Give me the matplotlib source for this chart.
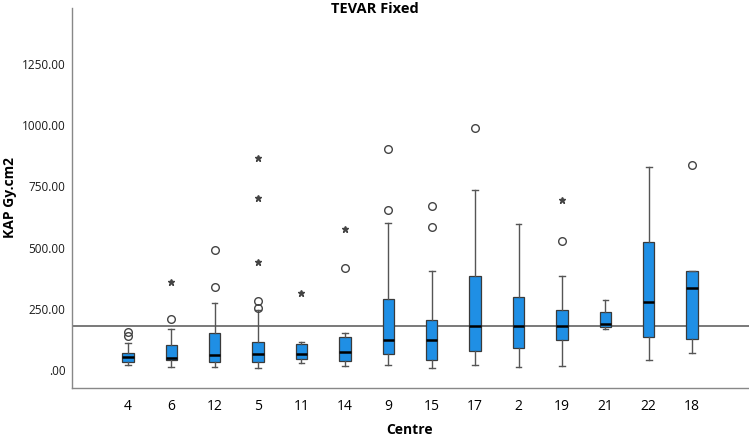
import matplotlib
matplotlib.use("Agg")
import matplotlib.pyplot as plt

plt.rcParams['font.family'] = ['Open Sans', 'DejaVu Sans']

centres = ["4", "6", "12", "5", "11", "14", "9", "15", "17", "2", "19", "21", "22", "18"]
q1 =      [32, 38, 31, 31, 42, 34, 64, 39, 76, 88, 120, 174, 132, 124]
median =  [50, 48, 59, 65, 63, 73, 120, 122, 178, 180, 177, 185, 279, 334]
q3 =      [70, 100, 151, 115, 105, 135, 289, 203, 382, 297, 243, 234, 524, 404]
whis_lo = [17, 9, 12, 6, 27, 16, 20, 8, 18, 9, 13, 165, 38, 70]
whis_hi = [110, 165, 271, 244, 113, 151, 600, 404, 736, 595, 382, 285, 829, 404]
outliers = [[137, 154], [206], [337, 488], [253, 283], [], [416], [654, 903],
            [583, 669], [988], [], [527], [], [], [838]]
extremes = [[], [360], [], [439, 702, 865], [315], [577], [], [], [], [], [694], [], [], []]
reference_value = 178
yticks = [0, 250, 500, 750, 1000, 1250]
ytick_labels = [".00", "250.00", "500.00", "750.00", "1000.00", "1250.00"]

fig = plt.figure(figsize=(7.49, 4.37), dpi=100)
ax = fig.add_axes([72.3 / 749, 1 - 387.7 / 437, 1 - 72.3 / 749, (387.7 - 8) / 437])

stats = []
for i, c in enumerate(centres):
    stats.append(dict(label=c, q1=q1[i], med=median[i], q3=q3[i],
                      whislo=whis_lo[i], whishi=whis_hi[i], fliers=[]))

positions = list(range(len(centres)))
ax.axhline(reference_value, color="#6e6e6e", lw=1.3, zorder=1)
ax.bxp(stats, positions=positions, widths=0.26, patch_artist=True,
       showfliers=False, capwidths=0.13,
       boxprops=dict(facecolor="#1f8fe5", edgecolor="#3a3a3a", lw=0.9),
       medianprops=dict(color="black", lw=1.8),
       whiskerprops=dict(color="#555555", lw=1.0),
       capprops=dict(color="#555555", lw=1.0), zorder=2)

for i in positions:
    if outliers[i]:
        ax.plot([i] * len(outliers[i]), outliers[i], linestyle="none", marker="o",
                markersize=5.5, markerfacecolor="none", markeredgecolor="#444444",
                markeredgewidth=1.0, zorder=3)
    if extremes[i]:
        ax.plot([i] * len(extremes[i]), extremes[i], linestyle="none", marker="*",
                markersize=4.5, color="#444444", zorder=3)

ax.set_xlim(-1.28, 14.31)
ax.set_ylim(-74, 1481)
ax.set_xticks(positions)
ax.set_xticklabels(centres, fontsize=10)
ax.set_yticks(yticks)
ax.set_yticklabels(ytick_labels, fontsize=8.5, color="#1a1a1a")
ax.tick_params(axis="both", length=0)
ax.tick_params(axis="x", pad=8)
ax.tick_params(axis="y", pad=5)
for s in ["top", "right"]:
    ax.spines[s].set_visible(False)
for s in ["left", "bottom"]:
    ax.spines[s].set_color("#888888")
    ax.spines[s].set_linewidth(1.0)

fig.text(375 / 749, 1 - 9 / 437, "TEVAR Fixed", ha="center", va="center",
         fontsize=10.5, fontweight="bold")
fig.text(410 / 749, 1 - 430 / 437, "Centre", ha="center", va="center",
         fontsize=10, fontweight="bold")
fig.text(10 / 749, 1 - 198 / 437, "KAP Gy.cm2", ha="center", va="center",
         rotation=90, fontsize=10, fontweight="bold")

fig.savefig("out.png", dpi=100)
